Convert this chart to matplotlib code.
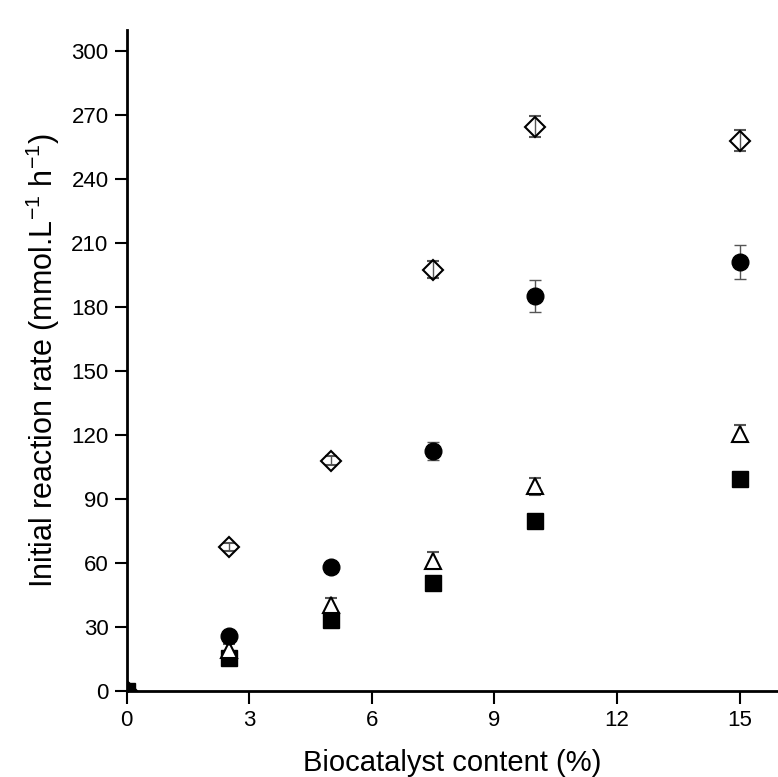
import matplotlib.pyplot as plt

plt.rcParams['font.family'] = ['Liberation Sans', 'DejaVu Sans']

# biocatalyst content (%)
x = [0, 2.5, 5, 7.5, 10, 15]

# initial reaction rates (mmol.L-1 h-1) for the four series
diamond_y = [0, 67.5, 108, 197.5, 264.5, 258]
diamond_err = [0, 2, 2, 4, 5, 5]
circle_y = [0, 26, 58, 112.5, 185, 201]
circle_err = [0, 2, 2, 4, 7.5, 8]
triangle_y = [0, 19, 40.5, 61, 96, 120.5]
triangle_err = [0, 3, 3, 4, 4, 4]
square_y = [0, 15.5, 33.5, 50.5, 79.5, 99.5]
square_err = [0, 1, 1, 1, 1, 1]

fig = plt.figure(figsize=(7.78, 7.77), dpi=100)
ax = fig.add_axes([0.1628, 0.1107, 0.8372, 0.851])

err_kw = dict(ls='none', ecolor='#555555', elinewidth=1, capsize=4.5, capthick=1)
ax.errorbar(x, square_y, yerr=square_err, marker='s', ms=11, mfc='black', mec='black', **err_kw)
ax.errorbar(x, triangle_y, yerr=triangle_err, marker='^', ms=12, mfc='white', mec='black', mew=1.5, **err_kw)
ax.errorbar(x, circle_y, yerr=circle_err, marker='o', ms=12, mfc='black', mec='black', **err_kw)
ax.errorbar(x, diamond_y, yerr=diamond_err, marker='D', ms=10, mfc='none', mec='black', mew=1.5, **err_kw)

ax.set_xlim(0, 15.94)
ax.set_ylim(0, 310)
ax.set_xticks([0, 3, 6, 9, 12, 15])
ax.set_yticks(range(0, 301, 30))

ax.spines['top'].set_visible(False)
ax.spines['right'].set_visible(False)
ax.spines['left'].set_linewidth(2)
ax.spines['bottom'].set_linewidth(2)
ax.tick_params(axis='both', direction='out', length=9, width=1.5, labelsize=16, colors='black')
ax.tick_params(axis='x', pad=5)
ax.tick_params(axis='y', pad=4)

ax.set_xlabel('Biocatalyst content (%)', fontsize=21, labelpad=13)
ax.set_ylabel(r'Initial reaction rate (mmol.L$^{\mathregular{-1}}$ h$^{\mathregular{-1}}$)', fontsize=22, labelpad=7)

fig.savefig('out.png', dpi=100)
